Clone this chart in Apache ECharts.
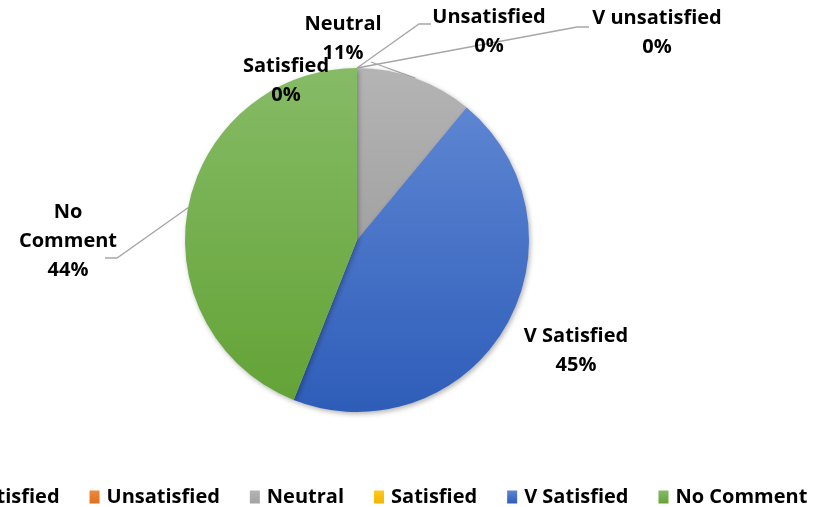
<!DOCTYPE html>
<html>
<head>
<meta charset="utf-8">
<script src="https://cdn.jsdelivr.net/npm/echarts@6/dist/echarts.min.js"></script>
<style>html,body{margin:0;padding:0;background:#fff;}#c{width:817px;height:507px;}</style>
</head>
<body>
<div id="c"></div>
<script>
var categories = ['V unsatisfied', 'Unsatisfied', 'Neutral', 'Satisfied', 'V Satisfied', 'No Comment'];
var labelNames = ['V unsatisfied', 'Unsatisfied', 'Neutral', 'Satisfied', 'V Satisfied', 'No\nComment'];
var values = [0, 0, 11, 0, 45, 44];

var colorsTop = ['#5B86D6', '#F0883E', '#B4B4B4', '#FFC81A', '#5D85D2', '#86BB66'];
var colorsBottom = ['#3563BD', '#E0701E', '#A2A2A2', '#F2B600', '#2E5DB9', '#63A336'];

// label placement (styling): centre of each label block, and leader line bend/end
var labelPos = [
  {x: 657, y: 33, line: [[577, 27], [589, 27]]},
  {x: 489, y: 32, line: [[419, 24], [431, 24]]},
  {x: 343, y: 39, line: [[371, 62]]},
  {x: 286, y: 81, line: null},
  {x: 576, y: 351, line: null},
  {x: 68, y: 241, line: [[117, 258], [105, 258]]}
];

var data = categories.map(function (c, i) {
  return {
    name: c,
    value: values[i],
    itemStyle: {
      color: new echarts.graphic.LinearGradient(0, 0, 0, 1, [
        {offset: 0, color: colorsTop[i]},
        {offset: 1, color: colorsBottom[i]}
      ])
    }
  };
});

var chart = echarts.init(document.getElementById('c'), null, {renderer: 'canvas'});
chart.setOption({
  animation: false,
  backgroundColor: '#ffffff',
  legend: {
    data: categories,
    left: -92,
    top: 482,
    width: 1100,
    orient: 'horizontal',
    icon: 'rect',
    itemWidth: 10,
    itemHeight: 13,
    itemGap: 30,
    textStyle: {fontFamily: 'Open Sans', fontWeight: 'bold', fontSize: 20, color: '#000', padding: [0, 0, 0, 2]}
  },
  series: [{
    type: 'pie',
    center: [357, 240],
    radius: 172,
    startAngle: 90,
    clockwise: true,
    avoidLabelOverlap: false,
    percentPrecision: 0,
    data: data,
    itemStyle: {
      borderWidth: 0,
      shadowBlur: 5,
      shadowColor: 'rgba(0,0,0,0.3)',
      shadowOffsetX: 1.5,
      shadowOffsetY: 2
    },
    label: {
      show: true,
      position: 'outside',
      formatter: function (p) { return labelNames[p.dataIndex] + '\n' + p.percent + '%'; },
      fontFamily: 'Open Sans',
      fontWeight: 'bold',
      fontSize: 20,
      lineHeight: 29,
      color: '#000',
      align: 'center'
    },
    labelLine: {
      show: true,
      length: 10,
      length2: 10,
      lineStyle: {color: '#A6A6A6', width: 1.3}
    },
    labelLayout: function (p) {
      var lp = labelPos[p.dataIndex];
      var res = {x: lp.x, y: lp.y, align: 'center', verticalAlign: 'middle'};
      if (lp.line && p.labelLinePoints) {
        var pts = [p.labelLinePoints[0]].concat(lp.line);
        if (pts.length === 2) pts.push(lp.line[0]);
        res.labelLinePoints = pts;
      } else {
        res.labelLinePoints = [[0,0],[0,0],[0,0]];
      }
      return res;
    },
    emphasis: {disabled: true}
  }]
});
</script>
</body>
</html>
